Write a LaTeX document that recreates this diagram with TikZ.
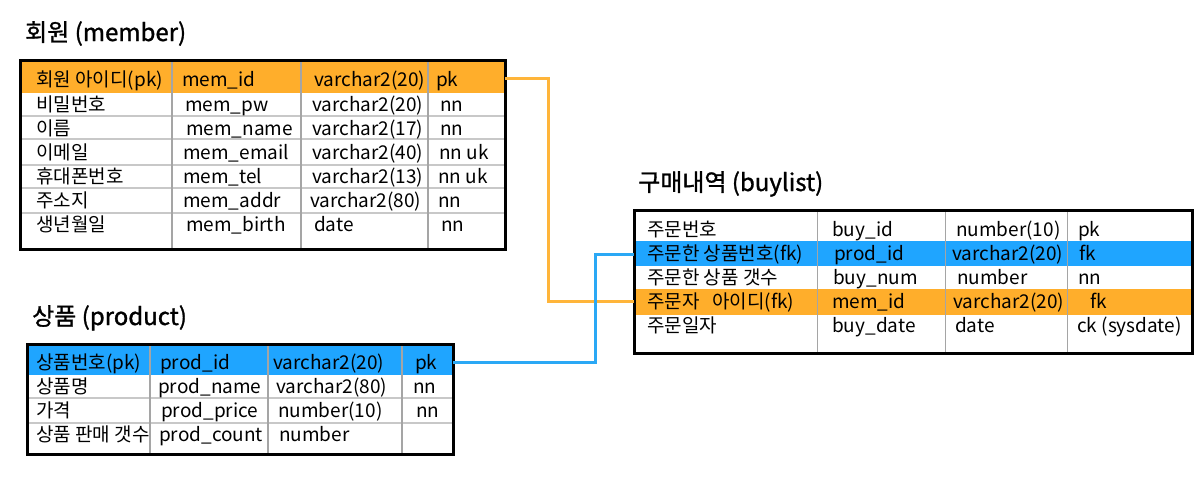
\documentclass[tikz,border=0pt]{standalone}
\usepackage{fontspec}
\setmainfont{Noto Sans CJK KR}
\newfontfamily\titlefont[FakeBold=1.2]{Noto Sans CJK KR}
\definecolor{ora}{HTML}{FFAE2B}
\definecolor{blu}{HTML}{1FA5FF}
\definecolor{oraline}{HTML}{FFB53A}
\definecolor{bluline}{HTML}{2AA8F5}
\definecolor{rowgray}{HTML}{C8C8C8}
\definecolor{colgray}{HTML}{A5A5A5}
\begin{document}
\begin{tikzpicture}[x=1pt,y=-1pt,
  cell/.style={anchor=base west, inner sep=0pt, font=\fontsize{19}{21}\selectfont},
  ttl/.style={anchor=base west, inner sep=0pt, font=\titlefont\fontsize{24}{26}\selectfont},
  frame/.style={draw=black, line width=3pt, anchor=north west, inner sep=0pt, outer sep=0pt},
  rowline/.style={draw=rowgray, line width=2pt},
  colline/.style={draw=colgray, line width=1.5pt},
  conn/.style={line width=3pt, line join=miter}]
\useasboundingbox (0,0) rectangle (1201,483);

% ---------- member ----------
\node[ttl] (tmember) at (25,41) {회원 (member)};
\fill[ora] (20.5,60.5) rectangle (505,93);
\foreach \yy in {116,139,164.5,187.5,213} \draw[rowline] (20.5,\yy) -- (505,\yy);
\foreach \xx in {172,301,428} \draw[colline] (\xx,60.5) -- (\xx,249);
\node[frame, minimum width=484.5pt, minimum height=188.5pt] (member) at (20.5,60.5) {};
\node[cell] (m11) at (36,86) {회원 아이디(pk)};
\node[cell] (m12) at (182,86) {mem\_id};
\node[cell] (m13) at (314,86) {varchar2(20)};
\node[cell] (m14) at (436,86) {pk};
\node[cell] (m21) at (36,111) {비밀번호};
\node[cell] (m22) at (185,111) {mem\_pw};
\node[cell] (m23) at (312,111) {varchar2(20)};
\node[cell] (m24) at (440,111) {nn};
\node[cell] (m31) at (36,135) {이름};
\node[cell] (m32) at (186,135) {mem\_name};
\node[cell] (m33) at (312,135) {varchar2(17)};
\node[cell] (m34) at (440,135) {nn};
\node[cell] (m41) at (36,159) {이메일};
\node[cell] (m42) at (183,159) {mem\_email};
\node[cell] (m43) at (312,159) {varchar2(40)};
\node[cell] (m44) at (439,159) {nn uk};
\node[cell] (m51) at (36,183) {휴대폰번호};
\node[cell] (m52) at (183,183) {mem\_tel};
\node[cell] (m53) at (312,183) {varchar2(13)};
\node[cell] (m54) at (438,183) {nn uk};
\node[cell] (m61) at (36,207) {주소지};
\node[cell] (m62) at (183,207) {mem\_addr};
\node[cell] (m63) at (310,207) {varchar2(80)};
\node[cell] (m64) at (438,207) {nn};
\node[cell] (m71) at (36,231) {생년월일};
\node[cell] (m72) at (186,231) {mem\_birth};
\node[cell] (m73) at (314,231) {date};
\node[cell] (m74) at (441,231) {nn};

% ---------- product ----------
\node[ttl] (tproduct) at (32,325) {상품 (product)};
\fill[blu] (27,344) rectangle (453,375);
\foreach \yy in {398,423} \draw[rowline] (27,\yy) -- (453,\yy);
\foreach \xx in {150,268,402} \draw[colline] (\xx,344) -- (\xx,454);
\node[frame, minimum width=426pt, minimum height=110pt] (product) at (27,344) {};
\node[cell] (p11) at (36,369) {상품번호(pk)};
\node[cell] (p12) at (160,369) {prod\_id};
\node[cell] (p13) at (273,369) {varchar2(20)};
\node[cell] (p14) at (415,369) {pk};
\node[cell] (p21) at (36,393) {상품명};
\node[cell] (p22) at (158,393) {prod\_name};
\node[cell] (p23) at (276,393) {varchar2(80)};
\node[cell] (p24) at (413,393) {nn};
\node[cell] (p31) at (36,417) {가격};
\node[cell] (p32) at (161,417) {prod\_price};
\node[cell] (p33) at (278,417) {number(10)};
\node[cell] (p34) at (416,417) {nn};
\node[cell] (p41) at (36,441) {상품 판매 갯수};
\node[cell] (p42) at (159,441) {prod\_count};
\node[cell] (p43) at (279,441) {number};

% ---------- buylist ----------
\node[ttl] (tbuylist) at (638,191) {구매내역 (buylist)};
\fill[blu] (634,241) rectangle (1192,266);
\fill[ora] (634,289) rectangle (1192,315);
\foreach \xx in {817,945,1067} \draw[draw=colgray, line width=1pt] (\xx,210) -- (\xx,353);
\node[frame, minimum width=558pt, minimum height=143pt] (buylist) at (634,210) {};
\node[cell] (b11) at (647,236) {주문번호};
\node[cell] (b12) at (832,236) {buy\_id};
\node[cell] (b13) at (956,236) {number(10)};
\node[cell] (b14) at (1078,236) {pk};
\node[cell] (b21) at (647,260) {주문한 상품번호(fk)};
\node[cell] (b22) at (834,260) {prod\_id};
\node[cell] (b23) at (952,260) {varchar2(20)};
\node[cell] (b24) at (1079,260) {fk};
\node[cell] (b31) at (647,284) {주문한 상품 갯수};
\node[cell] (b32) at (833,284) {buy\_num};
\node[cell] (b33) at (957,284) {number};
\node[cell] (b34) at (1078,284) {nn};
\node[cell] (b41) at (647,308) {주문자~~~아이디(fk)};
\node[cell] (b42) at (832,308) {mem\_id};
\node[cell] (b43) at (953,308) {varchar2(20)};
\node[cell] (b44) at (1090,308) {fk};
\node[cell] (b51) at (647,332) {주문일자};
\node[cell] (b52) at (832,332) {buy\_date};
\node[cell] (b53) at (955,332) {date};
\node[cell] (b54) at (1077,332) {ck (sysdate)};

% ---------- connectors ----------
\coordinate (oStart) at (member.east |- 0,78);
\coordinate (oEnd) at (buylist.west |- 0,301);
\coordinate (bStart) at (product.east |- 0,362);
\coordinate (bEnd) at (buylist.west |- 0,254);
\draw[conn, oraline] (oStart) -- (548,78) -- (548,301) -- (oEnd);
\draw[conn, bluline] (bStart) -- (595,362) -- (595,254) -- (bEnd);
\end{tikzpicture}
\end{document}
